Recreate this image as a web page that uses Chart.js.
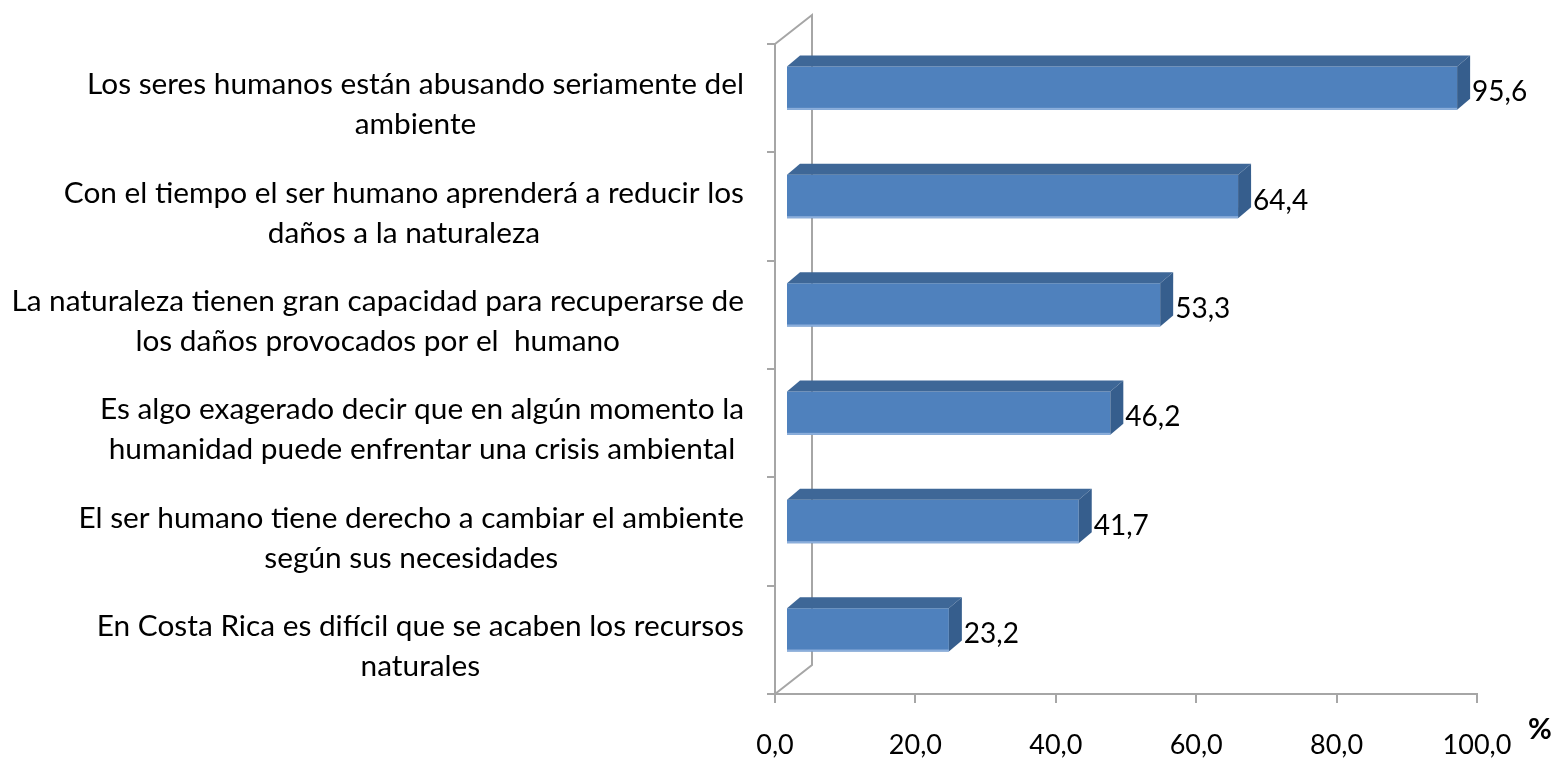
<!DOCTYPE html>
<html>
<head>
<meta charset="utf-8">
<script src="https://cdn.jsdelivr.net/npm/chart.js@4.4.1/dist/chart.umd.min.js"></script>
<style>
    html, body { margin: 0; padding: 0; background: #fff; }
</style>
</head>
<body>
<canvas id="opinionChart" width="1555" height="760"></canvas>
<script>
const categories = [
    ['Los seres humanos están abusando seriamente del', 'ambiente'],
    ['Con el tiempo el ser humano aprenderá a reducir los', 'daños a la naturaleza'],
    ['La naturaleza tienen gran capacidad para recuperarse de', 'los daños provocados por el  humano'],
    ['Es algo exagerado decir que en algún momento la', 'humanidad puede enfrentar una crisis ambiental'],
    ['El ser humano tiene derecho a cambiar el ambiente', 'según sus necesidades'],
    ['En Costa Rica es difícil que se acaben los recursos', 'naturales'],
];
const values = [95.6, 64.4, 53.3, 46.2, 41.7, 23.2];
const xTicks = [0, 20, 40, 60, 80, 100];
const unitLabel = '%';

const FONT = 'Lato, "Open Sans", sans-serif';
const AXIS_GRAY = '#A6A6A6';
const FRONT = { dx: 11, dy: -10 };   // bar front face offset from the axis plane
const DEPTH = { dx: 13, dy: -11 };   // bar thickness in depth
const WALL = { dx: 37, dy: -29 };    // back wall offset

function formatNumber(v) {
    return v.toFixed(1).replace('.', ',');
}

const bar3d = {
    id: 'bar3d',
    beforeDatasetsDraw(chart) {
        const ctx = chart.ctx;
        const a = chart.chartArea;
        ctx.save();
        ctx.strokeStyle = AXIS_GRAY;
        ctx.lineWidth = 2;
        ctx.beginPath();
        ctx.moveTo(a.left, a.top);
        ctx.lineTo(a.left + WALL.dx, a.top + WALL.dy);
        ctx.lineTo(a.left + WALL.dx, a.bottom + WALL.dy);
        ctx.lineTo(a.left, a.bottom);
        ctx.stroke();
        ctx.restore();
    },
    beforeDatasetDraw(chart) {
        chart.ctx.save();
        chart.ctx.translate(FRONT.dx, FRONT.dy);
    },
    afterDatasetDraw(chart) {
        chart.ctx.restore();
    },
    afterDatasetsDraw(chart) {
        const ctx = chart.ctx;
        const meta = chart.getDatasetMeta(0);
        ctx.save();
        meta.data.forEach((bar, i) => {
            const x0 = bar.base + FRONT.dx;
            const x1 = bar.x + FRONT.dx;
            const yTop = bar.y - bar.height / 2 + FRONT.dy;
            const yBot = bar.y + bar.height / 2 + FRONT.dy;

            // top face
            ctx.fillStyle = '#3E6797';
            ctx.beginPath();
            ctx.moveTo(x0, yTop);
            ctx.lineTo(x0 + DEPTH.dx, yTop + DEPTH.dy);
            ctx.lineTo(x1 + DEPTH.dx, yTop + DEPTH.dy);
            ctx.lineTo(x1, yTop);
            ctx.closePath();
            ctx.fill();

            // side face
            ctx.fillStyle = '#365E8D';
            ctx.beginPath();
            ctx.moveTo(x1, yTop);
            ctx.lineTo(x1 + DEPTH.dx, yTop + DEPTH.dy);
            ctx.lineTo(x1 + DEPTH.dx, yBot + DEPTH.dy);
            ctx.lineTo(x1, yBot);
            ctx.closePath();
            ctx.fill();

            // light bottom edge
            ctx.fillStyle = '#8BAEDB';
            ctx.fillRect(x0, yBot - 2, x1 - x0, 2);

            // value label
            ctx.fillStyle = '#000';
            ctx.font = '28px ' + FONT;
            ctx.textAlign = 'left';
            ctx.textBaseline = 'alphabetic';
            ctx.fillText(formatNumber(values[i]), x1 + DEPTH.dx + 2, bar.y + FRONT.dy + 13);
        });
        ctx.restore();
    },
    afterDraw(chart) {
        const ctx = chart.ctx;
        const a = chart.chartArea;
        const yScale = chart.scales.y;
        ctx.save();
        ctx.fillStyle = '#000';
        ctx.font = '29.8px ' + FONT;
        ctx.textAlign = 'center';
        ctx.textBaseline = 'alphabetic';
        const right = a.left - 31;
        categories.forEach((lines, i) => {
            const c = yScale.getPixelForTick(i);
            const w = Math.max(...lines.map(l => ctx.measureText(l).width));
            const cx = right - w / 2;
            lines.forEach((line, j) => {
                ctx.fillText(line, cx, c - 4 + j * 40);
            });
        });
        ctx.font = 'bold 29px ' + FONT;
        ctx.textAlign = 'center';
        ctx.fillText(unitLabel, a.right + 63, a.bottom + 45);
        ctx.restore();
    },
};

const ctx = document.getElementById('opinionChart').getContext('2d');
window.myChart = new Chart(ctx, {
    type: 'bar',
    data: {
        labels: categories,
        datasets: [{
            data: values,
            backgroundColor: '#4F81BD',
            borderWidth: 0,
            categoryPercentage: 1,
            barPercentage: 0.4,
        }],
    },
    options: {
        indexAxis: 'y',
        responsive: false,
        animation: false,
        devicePixelRatio: 1,
        layout: { padding: { left: 0, right: 78, top: 44, bottom: 0 } },
        plugins: {
            legend: { display: false },
            tooltip: { enabled: false },
        },
        scales: {
            x: {
                min: 0,
                max: 100,
                afterFit(scale) { scale.height = 66; },
                afterBuildTicks(scale) { scale.ticks = xTicks.map(v => ({ value: v })); },
                grid: { drawOnChartArea: false, tickLength: 9, color: AXIS_GRAY, lineWidth: 2 },
                border: { color: AXIS_GRAY, width: 2 },
                ticks: {
                    color: '#000',
                    font: { family: FONT, size: 27 },
                    padding: 26,
                    maxRotation: 0,
                    callback: v => formatNumber(v),
                },
            },
            y: {
                afterFit(scale) { scale.width = 775; },
                grid: { drawOnChartArea: false, offset: true, tickLength: 8, color: AXIS_GRAY, lineWidth: 2 },
                border: { color: AXIS_GRAY, width: 2 },
                ticks: { display: false },
            },
        },
    },
    plugins: [bar3d],
});
</script>
</body>
</html>
